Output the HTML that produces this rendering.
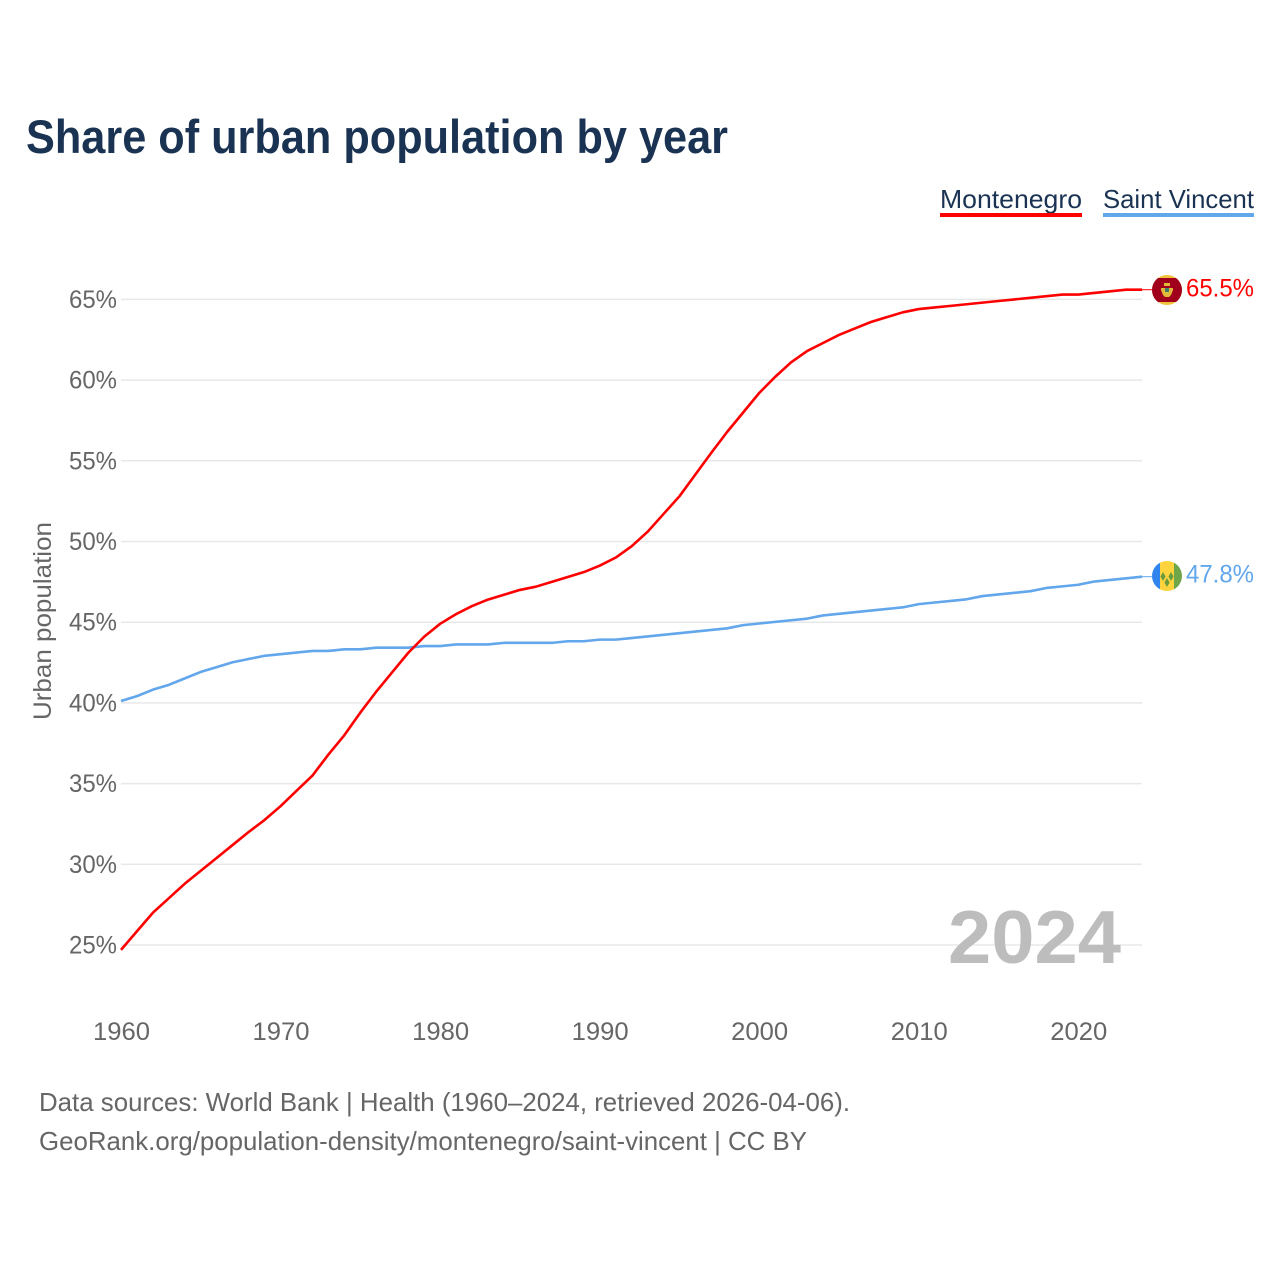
<!DOCTYPE html>
<html>
<head>
<meta charset="utf-8">
<title>Share of urban population by year</title>
<style>
html,body{margin:0;padding:0;background:#fff;width:1280px;height:1280px;overflow:hidden}
svg{display:block}
text{font-family:"Liberation Sans",sans-serif}
</style>
</head>
<body>
<svg id="chart" width="1280" height="1280" viewBox="0 0 1280 1280" xmlns="http://www.w3.org/2000/svg">
  <defs>
    <clipPath id="clip-me"><circle cx="1167" cy="290" r="15"/></clipPath>
    <clipPath id="clip-vc"><circle cx="1167" cy="576" r="15"/></clipPath>
  </defs>
  <text x="26" y="153" font-size="47" font-weight="700" fill="#1a3353" textLength="702" lengthAdjust="spacingAndGlyphs">Share of urban population by year</text>

  <g>
    <g>
      <text x="940" y="208" font-size="26" fill="#1a3353" textLength="142" lengthAdjust="spacingAndGlyphs">Montenegro</text>
      <rect x="940" y="213" width="142" height="4" fill="#ff0000"/>
    </g>
    <g>
      <text x="1103" y="208" font-size="26" fill="#1a3353" textLength="151" lengthAdjust="spacingAndGlyphs">Saint Vincent</text>
      <rect x="1103" y="213" width="151" height="4" fill="#62a6ec"/>
    </g>
  </g>

  <g id="grid"></g>
  <g id="yticks"></g>
  <g id="xticks"></g>
  <text transform="translate(51,621) rotate(-90)" text-anchor="middle" font-size="25" fill="#666666" textLength="198" lengthAdjust="spacingAndGlyphs">Urban population</text>

  <text x="948" y="963" font-size="75" font-weight="700" fill="#bdbdbd" textLength="173" lengthAdjust="spacingAndGlyphs">2024</text>

  <g id="series"></g>

  <g>
    <g clip-path="url(#clip-me)">
      <rect x="1152" y="275" width="30" height="30" fill="#f2c13c"/>
      <rect x="1152" y="278" width="30" height="24" fill="#a0001c"/>
      <rect x="1164" y="283" width="6" height="3" fill="#e3b93a"/>
      <path d="M1161 288h12v2l-2 5-2 2h-4l-2-2-2-5z" fill="#e3b93a"/>
      <rect x="1165" y="288" width="4" height="4" fill="#3f7d6a"/>
    </g>
  </g>
  <g>
    <g clip-path="url(#clip-vc)">
      <rect x="1152" y="561" width="8" height="30" fill="#2f84ee"/>
      <rect x="1160" y="561" width="15" height="30" fill="#fdd43e"/>
      <rect x="1174" y="561" width="8" height="30" fill="#70a64a"/>
      <path d="M1163 572l2.6 4.5-2.6 4.5-2.6-4.500zM1171 572l2.600 4.500-2.600 4.500-2.600-4.500zM1167 578l2.600 4.500-2.600 4.500-2.600-4.500z" fill="#6a9c3e"/>
    </g>
  </g>
  <text x="1186" y="296.500" font-size="25" fill="#ff0000" textLength="68" lengthAdjust="spacingAndGlyphs">65.5%</text>
  <text x="1186" y="582.500" font-size="25" fill="#62a6ec" textLength="68" lengthAdjust="spacingAndGlyphs">47.8%</text>

  <text x="39" y="1111" font-size="26" fill="#666666" textLength="811" lengthAdjust="spacingAndGlyphs">Data sources: World Bank | Health (1960–2024, retrieved 2026-04-06).</text>
  <text x="39" y="1150" font-size="26" fill="#666666" textLength="768" lengthAdjust="spacingAndGlyphs">GeoRank.org/population-density/montenegro/saint-vincent | CC BY</text>
</svg>
<script>
const startYear = 1960;
const yTickValues = [25, 30, 35, 40, 45, 50, 55, 60, 65];
const xTickValues = [1960, 1970, 1980, 1990, 2000, 2010, 2020];
const montenegroValues = [24.7,25.85,27.0,27.9,28.8,29.6,30.4,31.2,32.0,32.75,33.6,34.55,35.5,36.8,38.0,39.4,40.7,41.9,43.1,44.1,44.9,45.5,46.0,46.4,46.7,47.0,47.2,47.5,47.8,48.1,48.5,49.0,49.7,50.6,51.7,52.8,54.15,55.5,56.8,58.0,59.2,60.2,61.1,61.8,62.3,62.8,63.2,63.6,63.9,64.2,64.4,64.5,64.6,64.7,64.8,64.9,65.0,65.1,65.2,65.3,65.3,65.4,65.5,65.6,65.6];
const saintVincentValues = [40.12,40.42,40.82,41.12,41.52,41.92,42.22,42.52,42.72,42.92,43.02,43.12,43.22,43.22,43.32,43.32,43.42,43.42,43.42,43.52,43.52,43.62,43.62,43.62,43.72,43.72,43.72,43.72,43.82,43.82,43.92,43.92,44.02,44.12,44.22,44.32,44.42,44.52,44.62,44.82,44.92,45.02,45.12,45.22,45.42,45.52,45.62,45.72,45.82,45.92,46.12,46.22,46.32,46.42,46.62,46.72,46.82,46.92,47.12,47.22,47.32,47.52,47.62,47.72,47.82];

const NS = 'http://www.w3.org/2000/svg';
function xScale(year) { return 121 + (year - 1960) * 15.955; }
function yScale(v) { return 945 - (v - 25) * 16.14; }

const grid = document.getElementById('grid');
const yticks = document.getElementById('yticks');
const xticks = document.getElementById('xticks');
const series = document.getElementById('series');

yTickValues.forEach(function (v) {
  const line = document.createElementNS(NS, 'line');
  
  
  line.setAttribute('x1', 121);
  line.setAttribute('x2', 1142);
  line.setAttribute('y1', yScale(v));
  line.setAttribute('y2', yScale(v));
  line.setAttribute('stroke', '#e8e8e8');
  line.setAttribute('stroke-width', 1.5);
  grid.appendChild(line);

  const t = document.createElementNS(NS, 'text');
  
  
  t.setAttribute('x', 69);
  t.setAttribute('y', yScale(v) + 8.5);
  t.setAttribute('font-size', 25);
  t.setAttribute('fill', '#666666');
  t.setAttribute('textLength', 48);
  t.setAttribute('lengthAdjust', 'spacingAndGlyphs');
  t.textContent = v + '%';
  yticks.appendChild(t);
});

xTickValues.forEach(function (y) {
  const t = document.createElementNS(NS, 'text');
  
  
  t.setAttribute('x', xScale(y) - 28);
  t.setAttribute('y', 1040);
  t.setAttribute('font-size', 25);
  t.setAttribute('fill', '#666666');
  t.setAttribute('textLength', 57);
  t.setAttribute('lengthAdjust', 'spacingAndGlyphs');
  t.textContent = y;
  xticks.appendChild(t);
});

function drawSeries(values, color, name) {
  const pts = values.map(function (v, i) {
    return xScale(startYear + i).toFixed(2) + ',' + yScale(v).toFixed(2);
  });
  const line = document.createElementNS(NS, 'polyline');
  
  
  line.setAttribute('points', pts.join(' '));
  line.setAttribute('fill', 'none');
  line.setAttribute('stroke', color);
  line.setAttribute('stroke-width', 2.6);
  line.setAttribute('stroke-linejoin', 'round');
  series.appendChild(line);

  const lastY = yScale(values[values.length - 1]);
  const lead = document.createElementNS(NS, 'line');
  
  
  lead.setAttribute('x1', xScale(startYear + values.length - 1));
  lead.setAttribute('x2', 1152);
  lead.setAttribute('y1', lastY);
  lead.setAttribute('y2', lastY);
  lead.setAttribute('stroke', color);
  lead.setAttribute('stroke-width', 1);
  series.appendChild(lead);
}
drawSeries(saintVincentValues, '#62a6ec', 'saint-vincent-line');
drawSeries(montenegroValues, '#ff0000', 'montenegro-line');
</script>
</body>
</html>
